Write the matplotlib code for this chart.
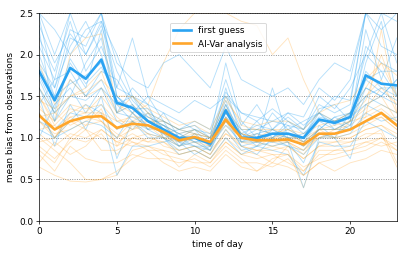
import matplotlib
matplotlib.use("Agg")
import matplotlib.pyplot as plt
import numpy as np

# hours of the day
hours = np.arange(24)

# mean bias, thick lines
first_guess = [1.80, 1.45, 1.84, 1.71, 1.94, 1.42, 1.36, 1.20, 1.10, 1.00, 1.00, 0.93,
               1.33, 1.00, 1.00, 1.05, 1.05, 1.00, 1.22, 1.18, 1.25, 1.75, 1.65, 1.63]
analysis = [1.27, 1.10, 1.20, 1.25, 1.26, 1.12, 1.17, 1.15, 1.07, 0.97, 1.01, 0.95,
            1.22, 1.00, 0.97, 0.97, 0.98, 0.92, 1.05, 1.05, 1.10, 1.20, 1.30, 1.15]

# individual stations, first guess
fg_stations = [
    [2.45, 1.6, 2.3, 2.2, 2.5, 1.6, 1.5, 1.3, 1.2, 1.1, 1.05, 1.0, 1.5, 1.1, 1.1, 1.2, 1.15, 1.1, 1.4, 1.3, 1.4, 2.5, 2.1, 2.0],
    [1.2, 1.1, 1.3, 1.25, 1.4, 1.1, 1.2, 1.05, 1.0, 0.85, 0.9, 0.8, 1.1, 0.85, 0.9, 0.95, 0.9, 0.8, 1.0, 1.0, 1.05, 1.3, 1.2, 1.25],
    [2.1, 1.7, 2.5, 2.0, 2.4, 1.5, 1.3, 1.1, 1.3, 1.0, 1.1, 0.9, 1.6, 1.0, 1.2, 1.0, 1.1, 1.2, 1.3, 1.1, 1.2, 2.1, 1.9, 1.8],
    [1.6, 1.3, 1.5, 1.9, 2.2, 1.3, 1.6, 1.4, 1.0, 1.05, 0.95, 1.0, 1.2, 1.05, 0.9, 1.1, 1.0, 0.9, 1.1, 1.25, 1.3, 1.6, 1.5, 1.7],
    [2.3, 1.2, 1.7, 1.5, 1.8, 1.7, 1.4, 1.2, 1.2, 0.9, 1.0, 0.85, 1.4, 0.95, 1.05, 1.0, 1.2, 1.05, 1.25, 1.2, 1.1, 1.9, 2.4, 1.5],
    [1.0, 1.4, 1.6, 1.3, 1.6, 1.2, 1.1, 1.3, 1.1, 0.95, 0.8, 0.9, 1.3, 1.1, 0.95, 1.05, 0.95, 0.7, 1.15, 1.0, 1.3, 1.5, 1.4, 1.3],
    [1.9, 1.6, 2.1, 2.4, 2.0, 1.4, 1.5, 1.2, 1.05, 1.1, 1.15, 1.0, 1.9, 1.2, 1.0, 1.3, 1.1, 1.0, 1.35, 1.4, 1.2, 2.3, 1.7, 2.2],
    [1.5, 0.9, 1.4, 1.1, 1.5, 0.75, 1.2, 1.0, 1.0, 0.8, 0.85, 0.75, 1.0, 0.8, 0.9, 0.85, 0.8, 0.55, 0.95, 0.9, 0.9, 1.2, 1.1, 1.0],
    [2.5, 2.3, 2.0, 2.3, 2.4, 2.0, 1.5, 1.4, 1.3, 1.2, 1.1, 1.05, 1.55, 1.3, 1.25, 1.2, 1.3, 1.15, 1.3, 1.5, 1.45, 2.5, 2.5, 2.4],
    [1.7, 1.3, 1.9, 1.6, 2.3, 1.3, 1.25, 1.15, 1.05, 0.95, 1.0, 0.95, 1.45, 0.95, 1.0, 0.95, 1.05, 0.95, 1.2, 1.1, 1.2, 1.8, 1.6, 1.6],
    [1.3, 1.0, 1.2, 1.4, 1.3, 0.55, 0.9, 0.9, 0.95, 1.0, 0.9, 0.85, 1.2, 0.9, 0.8, 1.0, 0.9, 0.85, 1.05, 1.0, 0.75, 1.4, 1.3, 1.2],
    [2.2, 1.8, 2.4, 1.8, 2.1, 1.6, 2.2, 1.5, 1.2, 1.1, 1.2, 1.1, 1.7, 1.15, 1.4, 1.1, 1.25, 1.1, 1.5, 1.35, 1.6, 2.0, 2.5, 1.9],
    [1.85, 1.5, 1.65, 1.75, 1.9, 1.45, 1.35, 1.25, 1.15, 1.05, 0.95, 0.95, 1.35, 1.0, 1.05, 1.1, 1.0, 1.05, 1.2, 1.2, 1.3, 1.7, 1.8, 1.5],
    [1.4, 1.7, 1.8, 1.5, 1.7, 1.3, 1.4, 1.1, 1.0, 0.9, 1.05, 0.9, 1.25, 1.05, 0.95, 1.0, 1.15, 0.95, 1.1, 1.25, 1.15, 1.6, 1.5, 1.7],
    [2.0, 1.5, 2.2, 2.1, 2.5, 1.5, 1.35, 1.35, 1.1, 1.0, 1.0, 0.95, 1.3, 1.0, 1.1, 1.05, 1.0, 1.0, 1.3, 1.15, 1.3, 2.0, 1.8, 1.8],
    [1.6, 1.2, 1.5, 1.45, 1.6, 1.4, 1.2, 1.1, 1.15, 0.95, 0.9, 0.9, 1.15, 0.95, 0.95, 1.6, 1.0, 0.9, 1.1, 1.1, 1.1, 1.5, 1.6, 1.5],
    [2.5, 2.0, 2.5, 2.5, 2.5, 1.9, 1.7, 1.6, 1.9, 2.0, 1.8, 1.6, 2.1, 1.7, 1.6, 1.5, 1.6, 1.4, 1.7, 1.9, 1.8, 2.5, 2.5, 2.5],
    [1.1, 1.0, 1.1, 1.2, 1.15, 1.0, 1.3, 1.5, 1.4, 1.3, 1.45, 1.35, 1.5, 1.3, 1.2, 1.35, 1.2, 1.1, 1.3, 1.2, 1.25, 1.4, 1.5, 1.4],
    [1.75, 1.35, 1.95, 1.65, 1.85, 1.5, 1.3, 1.15, 1.05, 0.9, 0.95, 0.85, 1.25, 0.9, 0.95, 0.9, 0.95, 0.4, 1.0, 1.05, 1.15, 1.7, 1.55, 1.45],
    [2.35, 1.9, 2.25, 2.0, 2.35, 1.8, 1.45, 1.25, 1.15, 1.05, 1.1, 1.0, 1.4, 1.05, 1.15, 1.1, 1.3, 1.25, 1.6, 1.45, 1.7, 2.5, 2.3, 2.5],
]

# individual stations, analysis
an_stations = [
    [1.0, 0.85, 0.7, 0.5, 0.5, 0.55, 0.85, 0.9, 0.8, 0.75, 0.7, 0.7, 0.95, 0.8, 0.75, 0.8, 0.7, 0.6, 0.8, 0.8, 0.85, 0.9, 1.0, 0.85],
    [1.5, 1.2, 2.0, 2.2, 2.25, 1.4, 1.3, 1.4, 1.9, 2.3, 2.5, 2.5, 2.5, 2.4, 2.35, 2.0, 2.2, 1.7, 1.3, 1.2, 1.3, 1.6, 1.9, 1.5],
    [1.3, 1.0, 1.3, 1.4, 1.2, 1.0, 1.2, 1.3, 1.0, 0.9, 1.05, 0.9, 1.4, 0.95, 0.9, 1.0, 0.95, 0.85, 1.1, 1.0, 1.2, 1.4, 1.5, 1.2],
    [0.7, 0.95, 0.8, 0.9, 1.1, 0.95, 0.9, 1.0, 0.95, 0.8, 0.85, 0.75, 1.0, 0.85, 0.8, 0.7, 0.9, 0.75, 0.9, 0.9, 0.95, 1.0, 1.1, 0.7],
    [1.6, 1.3, 1.5, 1.6, 1.8, 1.3, 1.4, 1.2, 1.2, 1.1, 1.15, 1.05, 1.35, 1.1, 1.1, 1.05, 1.1, 1.0, 1.2, 1.2, 1.3, 1.5, 1.7, 1.3],
    [1.1, 1.15, 1.0, 0.95, 1.05, 0.8, 1.0, 1.05, 0.9, 0.85, 0.9, 0.8, 1.1, 0.9, 0.85, 0.9, 0.85, 0.4, 0.95, 0.95, 1.0, 1.1, 1.15, 1.0],
    [1.4, 1.1, 1.25, 1.3, 1.5, 1.25, 1.1, 1.2, 1.15, 1.0, 1.1, 1.0, 1.3, 1.05, 1.0, 1.05, 1.0, 1.0, 1.1, 1.1, 1.15, 1.3, 1.4, 1.3],
    [0.9, 0.75, 0.95, 1.1, 0.85, 0.85, 0.95, 0.85, 0.85, 0.65, 0.8, 0.7, 0.9, 0.75, 0.6, 0.75, 0.8, 0.65, 0.75, 0.85, 0.85, 0.95, 0.9, 0.95],
    [1.2, 1.05, 1.1, 1.2, 1.3, 1.1, 1.3, 1.1, 1.1, 1.0, 0.95, 0.9, 1.2, 1.0, 1.05, 0.95, 1.0, 0.95, 1.0, 1.05, 1.1, 1.2, 1.25, 1.1],
    [1.9, 1.4, 1.7, 1.5, 1.6, 1.3, 1.5, 1.3, 1.2, 1.1, 1.05, 1.0, 1.5, 1.15, 1.1, 1.1, 1.1, 1.05, 1.15, 1.2, 1.25, 1.45, 2.0, 1.5],
    [0.8, 0.6, 0.9, 0.75, 0.7, 0.7, 0.8, 0.75, 0.75, 0.7, 0.75, 0.65, 0.85, 0.7, 0.7, 0.65, 0.75, 0.55, 0.7, 0.75, 0.8, 0.85, 0.95, 0.85],
    [1.35, 1.2, 1.4, 1.35, 1.4, 1.2, 1.25, 1.25, 1.15, 1.05, 1.1, 1.0, 1.25, 1.05, 1.0, 1.0, 1.05, 0.95, 1.1, 1.1, 1.2, 1.25, 1.35, 1.2],
    [1.05, 0.9, 1.05, 1.0, 1.1, 0.95, 1.05, 0.95, 1.05, 0.9, 0.95, 0.85, 1.05, 0.95, 0.95, 0.9, 0.95, 0.85, 1.0, 1.0, 1.0, 1.1, 1.15, 1.05],
    [1.25, 1.3, 1.15, 1.25, 1.2, 1.0, 1.1, 1.15, 1.0, 0.95, 1.0, 0.95, 1.15, 1.0, 1.0, 0.95, 0.95, 0.8, 1.05, 1.0, 1.05, 1.15, 1.25, 1.1],
    [0.95, 1.0, 1.2, 1.1, 1.0, 0.9, 1.0, 0.95, 0.95, 0.85, 0.9, 0.8, 1.05, 0.9, 0.85, 0.85, 0.9, 0.75, 0.9, 0.95, 0.95, 1.05, 1.05, 0.65],
    [1.5, 1.15, 1.35, 1.3, 1.3, 1.2, 1.2, 1.2, 1.1, 1.0, 1.05, 1.0, 1.3, 1.05, 1.0, 1.1, 1.05, 0.95, 1.1, 1.15, 1.2, 1.35, 1.6, 1.4],
    [0.65, 0.55, 0.48, 0.47, 0.5, 0.6, 0.75, 0.85, 0.7, 0.6, 0.65, 0.6, 0.8, 0.65, 0.6, 0.7, 0.65, 0.55, 0.7, 0.6, 0.7, 0.75, 0.85, 0.8],
    [1.45, 1.35, 1.5, 1.55, 1.7, 1.5, 1.5, 1.35, 1.25, 1.15, 1.2, 1.1, 1.45, 1.2, 1.15, 1.2, 1.2, 1.1, 1.3, 1.4, 1.45, 1.7, 1.9, 1.75],
    [0.85, 0.7, 1.0, 1.15, 1.2, 1.05, 0.95, 0.9, 0.85, 0.8, 0.85, 0.75, 0.95, 0.8, 0.85, 0.8, 0.8, 0.6, 0.85, 0.85, 0.9, 0.95, 1.0, 0.9],
    [1.2, 1.0, 1.25, 1.15, 1.35, 0.9, 1.15, 1.05, 1.0, 1.0, 1.0, 0.9, 1.2, 1.0, 0.95, 1.0, 1.0, 0.9, 1.0, 1.1, 1.1, 1.25, 2.3, 1.3],
]

blue = '#2aa3f2'
orange = '#ffa62b'

# default 6.4x4 figure, drawn at a small dpi so it comes out 407x255
fig = plt.figure(figsize=(6.4, 4.01), dpi=63.6)
ax = fig.add_axes([0.096, 0.133, 0.879, 0.816])

for fg, an in zip(fg_stations, an_stations):
    ax.plot(hours, fg, color=blue, lw=1, alpha=0.35)
    ax.plot(hours, an, color=orange, lw=1, alpha=0.3)

ax.plot(hours, first_guess, color=blue, lw=3, label='first guess')
ax.plot(hours, analysis, color=orange, lw=3, label='Al-Var analysis')

ax.set_xlim(0, 23)
ax.set_ylim(0, 2.5)
ax.set_xticks([0, 5, 10, 15, 20])
ax.set_yticks([0.0, 0.5, 1.0, 1.5, 2.0, 2.5])
ax.yaxis.grid(True, linestyle=':', color='gray', lw=1)
ax.set_xlabel('time of day')
ax.set_ylabel('mean bias from observations')
ax.legend(loc='upper center', bbox_to_anchor=(0.5, 0.975))

fig.savefig('out.png', dpi=63.6)
